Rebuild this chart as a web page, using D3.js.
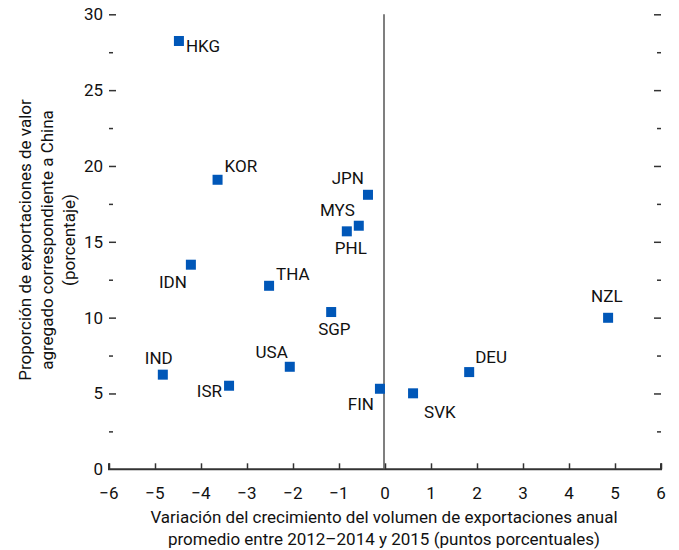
<!DOCTYPE html>
<html>
<head>
<meta charset="utf-8">
<script src="https://cdn.jsdelivr.net/npm/d3@7"></script>
<style>
  html, body { margin: 0; padding: 0; background: #fff; }
  svg text { font-family: "Liberation Sans Narrow", "Arial Narrow", "Roboto", sans-serif; fill: #111; }
</style>
</head>
<body>
<svg id="chart" width="679" height="550"></svg>
<script>
// Economies and their values
const countries = ["HKG", "KOR", "IDN", "THA", "JPN", "MYS", "PHL", "SGP", "USA", "IND", "ISR", "FIN", "SVK", "DEU", "NZL"];
const exportGrowthChange = [-4.48, -3.64, -4.22, -2.52, -0.37, -0.57, -0.83, -1.17, -2.07, -4.83, -3.39, -0.11, 0.61, 1.83, 4.85];
const chinaShare = [28.24, 19.09, 13.49, 12.10, 18.10, 16.06, 15.69, 10.37, 6.76, 6.24, 5.51, 5.31, 5.01, 6.41, 9.99];

const xTicks = [-6, -5, -4, -3, -2, -1, 0, 1, 2, 3, 4, 5, 6];
const yTicks = [0, 5, 10, 15, 20, 25, 30];
const yMinorTicks = [2.5, 7.5, 12.5, 17.5, 22.5, 27.5];

// Label placement relative to each marker (text-anchor start/end, dx, dy in px)
const labelLayout = {
  HKG: ["start", 7, 11], KOR: ["start", 7, -8], IDN: ["end", -4, 23],
  THA: ["start", 7, -6], JPN: ["end", -4, -11], MYS: ["end", -4, -10],
  PHL: ["start", -12, 23], SGP: ["start", -13, 23], USA: ["end", -2, -9],
  IND: ["start", -18, -11], ISR: ["end", -7, 11], FIN: ["end", -6, 21],
  SVK: ["start", 11, 25], DEU: ["start", 6, -9], NZL: ["start", -17, -16]
};

const svg = d3.select("#chart");
const x = d3.scaleLinear().domain([-6, 6]).range([109, 661]);
const y = d3.scaleLinear().domain([0, 30]).range([469.3, 14.3]);
const minus = d => (d < 0 ? "\u2212" + Math.abs(d) : String(d));
const fontSize = 17;

// Bottom axis: baseline with inward ticks
const xAxis = svg.append("g").attr("transform", `translate(0,${y(0)})`)
  .call(d3.axisTop(x).tickValues(xTicks).tickSize(6).tickFormat(""));
xAxis.select(".domain").attr("stroke", "#333").attr("stroke-width", 2)
  .attr("d", `M${x(-6)},-6V0H${x(6)}V-6`);
xAxis.selectAll(".tick line").attr("stroke", "#333").attr("stroke-width", 1.5);
svg.append("g").selectAll("text").data(xTicks).join("text")
  .attr("x", d => x(d)).attr("y", y(0) + 30)
  .attr("text-anchor", "middle").attr("font-size", fontSize)
  .text(minus);

// Left ticks (pointing inward) and labels
const leftAxis = svg.append("g").attr("transform", `translate(${x(-6)},0)`);
leftAxis.call(d3.axisRight(y).tickValues(yTicks.filter(d => d > 0)).tickSize(7).tickFormat(""));
leftAxis.select(".domain").remove();
leftAxis.selectAll(".tick line").attr("stroke", "#333").attr("stroke-width", 1.5);
const leftMinor = svg.append("g").attr("transform", `translate(${x(-6)},0)`);
leftMinor.call(d3.axisRight(y).tickValues(yMinorTicks).tickSize(4).tickFormat(""));
leftMinor.select(".domain").remove();
leftMinor.selectAll(".tick line").attr("stroke", "#333").attr("stroke-width", 1.5);
svg.append("g").selectAll("text").data(yTicks).join("text")
  .attr("x", x(-6) - 6).attr("y", d => y(d) + 6)
  .attr("text-anchor", "end").attr("font-size", fontSize)
  .text(d => d);

// Right ticks (pointing inward)
const rightAxis = svg.append("g").attr("transform", `translate(${x(6)},0)`);
rightAxis.call(d3.axisLeft(y).tickValues(yTicks.filter(d => d > 0)).tickSize(7).tickFormat(""));
rightAxis.select(".domain").remove();
rightAxis.selectAll(".tick line").attr("stroke", "#333").attr("stroke-width", 1.5);
const rightMinor = svg.append("g").attr("transform", `translate(${x(6)},0)`);
rightMinor.call(d3.axisLeft(y).tickValues(yMinorTicks).tickSize(4).tickFormat(""));
rightMinor.select(".domain").remove();
rightMinor.selectAll(".tick line").attr("stroke", "#333").attr("stroke-width", 1.5);

// Zero reference line
svg.append("line")
  .attr("x1", x(0) - 1).attr("x2", x(0) - 1)
  .attr("y1", y(30)).attr("y2", y(0))
  .attr("stroke", "#555").attr("stroke-width", 1.5);

// Markers
const pts = countries.map((c, i) => ({ c, vx: exportGrowthChange[i], vy: chinaShare[i] }));
const side = 10;
svg.append("g").selectAll("rect").data(pts).join("rect")
  .attr("x", d => x(d.vx) - side / 2).attr("y", d => y(d.vy) - side / 2)
  .attr("width", side).attr("height", side)
  .attr("fill", "#0057b8");

// Labels
svg.append("g").selectAll("text").data(pts).join("text")
  .attr("x", d => x(d.vx) + labelLayout[d.c][1])
  .attr("y", d => y(d.vy) + labelLayout[d.c][2])
  .attr("text-anchor", d => labelLayout[d.c][0])
  .attr("font-size", fontSize)
  .text(d => d.c);

// Axis titles
const xTitle = svg.append("text").attr("text-anchor", "middle").attr("font-size", fontSize);
xTitle.append("tspan").attr("x", 384).attr("y", 523).text("Variación del crecimiento del volumen de exportaciones anual");
xTitle.append("tspan").attr("x", 384).attr("y", 545).text("promedio entre 2012–2014 y 2015 (puntos porcentuales)");

const yTitle = svg.append("text").attr("text-anchor", "middle").attr("font-size", fontSize)
  .attr("transform", "translate(0,240) rotate(-90)");
yTitle.append("tspan").attr("x", 0).attr("y", 31).text("Proporción de exportaciones de valor");
yTitle.append("tspan").attr("x", 0).attr("y", 53).text("agregado correspondiente a China");
yTitle.append("tspan").attr("x", 0).attr("y", 75).text("(porcentaje)");
</script>
</body>
</html>
